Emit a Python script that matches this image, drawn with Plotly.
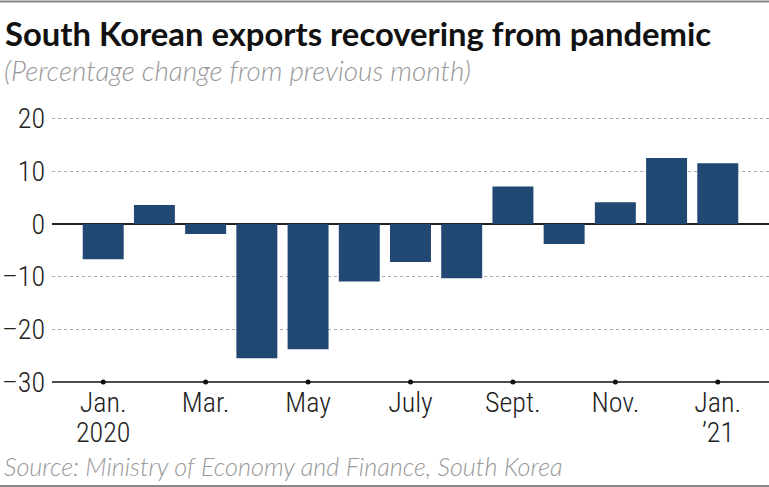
import plotly.graph_objects as go

months = ["Jan 2020", "Feb 2020", "Mar 2020", "Apr 2020", "May 2020", "Jun 2020",
          "Jul 2020", "Aug 2020", "Sep 2020", "Oct 2020", "Nov 2020", "Dec 2020", "Jan 2021"]
change = [-6.7, 3.6, -1.9, -25.5, -23.8, -10.9, -7.2, -10.3, 7.1, -3.8, 4.1, 12.5, 11.5]

xtick_vals = ["Jan 2020", "Mar 2020", "May 2020", "Jul 2020", "Sep 2020", "Nov 2020", "Jan 2021"]
xtick_text = ["Jan.", "Mar.", "May", "July", "Sept.", "Nov.", "Jan."]
year_vals = ["Jan 2020", "Jan 2021"]
year_text = ["2020", "\u201921"]
ytick_vals = [-30, -20, -10, 0, 10, 20]
ytick_text = ["\u201330", "\u201320", "\u201310", "0", "10", "20"]

title = "South Korean exports recovering from pandemic"
subtitle = "(Percentage change from previous month)"
source = "Source: Ministry of Economy and Finance, South Korea"

BAR = "#214872"
FONT = "Lato"
TICKFONT = dict(family="Roboto Condensed", size=28, color="#222", weight=300)

W, H = 769, 487
ML, MR, MT, MB = 52, 0, 112, 105
PW, PH = W - ML - MR, H - MT - MB


def px_x(x):
    return (x - ML) / PW


def px_y(y):
    return (H - MB - y) / PH


fig = go.Figure()
fig.add_trace(go.Bar(x=months, y=change, marker=dict(color=BAR, line=dict(width=0)),
                     hoverinfo="skip"))
fig.add_trace(go.Scatter(x=xtick_vals, y=[ytick_vals[0]] * len(xtick_vals), mode="markers",
                         marker=dict(color="#111", size=5), cliponaxis=False, hoverinfo="skip"))

annotations = [
    dict(text="<b>" + title + "</b>", xref="paper", yref="paper", x=px_x(3), y=px_y(34),
         xanchor="left", yanchor="middle", showarrow=False,
         font=dict(size=32.8, color="#111", family=FONT)),
    dict(text="<i>" + subtitle + "</i>", xref="paper", yref="paper", x=px_x(2), y=px_y(71),
         xanchor="left", yanchor="middle", showarrow=False,
         font=dict(size=27.8, color="#999", family=FONT, weight=300)),
    dict(text="<i>" + source + "</i>", xref="paper", yref="paper", x=px_x(2), y=px_y(466),
         xanchor="left", yanchor="middle", showarrow=False,
         font=dict(size=25.2, color="#999", family=FONT, weight=300)),
]
for v, t in zip(year_vals, year_text):
    annotations.append(dict(text=t, xref="x", yref="paper", x=v, y=px_y(432),
                            xanchor="center", yanchor="middle", showarrow=False,
                            font=TICKFONT))

fig.update_layout(
    width=W, height=H, showlegend=False,
    margin=dict(l=ML, r=MR, t=MT, b=MB, autoexpand=False),
    paper_bgcolor="white", plot_bgcolor="white",
    bargap=0.2,
    font=dict(family=FONT, color="#222"),
    xaxis=dict(type="category", categoryorder="array", categoryarray=months,
               range=[-1, 13], tickvals=xtick_vals, ticktext=xtick_text,
               showgrid=False, ticks="", tickfont=TICKFONT, automargin=False,
               ticklabelstandoff=1, showline=False, zeroline=False),
    yaxis=dict(range=[-30, 21.25], tickvals=ytick_vals, ticktext=ytick_text,
               showgrid=True, gridcolor="#aaa", griddash="dot", gridwidth=1,
               zeroline=True, zerolinecolor="#222", zerolinewidth=1.5,
               ticks="", tickfont=TICKFONT, ticklabelstandoff=6, automargin=False,
               showline=False),
    shapes=[
        dict(type="line", xref="paper", yref="paper", x0=0, x1=1,
             y0=0, y1=0, line=dict(color="#111", width=1.5), layer="above"),
        dict(type="line", xref="paper", yref="paper", x0=px_x(0), x1=px_x(769),
             y0=px_y(1.5), y1=px_y(1.5), line=dict(color="#888", width=2)),
        dict(type="line", xref="paper", yref="paper", x0=px_x(0), x1=px_x(769),
             y0=px_y(486), y1=px_y(486), line=dict(color="#888", width=2)),
    ],
    annotations=annotations,
)

fig.write_html("out.html", config={"displayModeBar": False},
               post_script="document.body.style.margin='0';document.body.style.overflow='hidden';")
